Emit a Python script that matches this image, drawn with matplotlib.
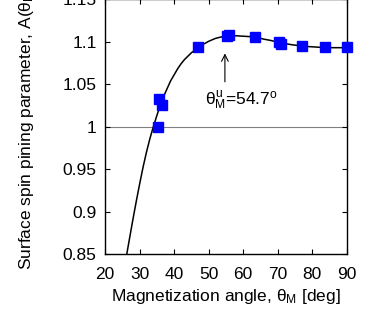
import numpy as np
import matplotlib
matplotlib.use("Agg")
import matplotlib.pyplot as plt

plt.rcParams['font.family'] = ['Liberation Sans', 'DejaVu Sans']
plt.rcParams['mathtext.fontset'] = 'custom'
plt.rcParams['mathtext.rm'] = 'Liberation Sans'
plt.rcParams['mathtext.it'] = 'Liberation Sans'
plt.rcParams['mathtext.bf'] = 'Liberation Sans:bold'

# Puntos medidos
theta_meas = [35.4, 35.6, 36.6, 46.8, 55.3, 56.0, 63.4, 70.3, 70.9, 77.1, 83.8, 89.9]
A_meas = [1.000, 1.033, 1.025, 1.0935, 1.1065, 1.1075, 1.106, 1.100, 1.097, 1.0955, 1.0935, 1.0935]

# Curva teorica
theta_fit = [26, 27, 28, 29, 30, 31, 32, 33, 34, 35, 36, 37, 38, 39, 40, 41, 42, 43, 44,
             45, 46, 47, 48, 50, 52, 54, 56, 58, 60, 62, 64, 66, 68, 70, 72, 74, 76, 78,
             80, 82, 84, 86, 88, 90]
A_fit = [0.843, 0.866, 0.889, 0.911, 0.932, 0.952, 0.970, 0.986, 1.000, 1.013, 1.025,
         1.036, 1.045, 1.054, 1.061, 1.068, 1.074, 1.079, 1.083, 1.087, 1.090, 1.093,
         1.096, 1.1005, 1.104, 1.106, 1.107, 1.107, 1.1065, 1.106, 1.105, 1.103, 1.1015,
         1.0995, 1.098, 1.0965, 1.0955, 1.0945, 1.094, 1.0935, 1.093, 1.093, 1.093, 1.093]

xticks = [20, 30, 40, 50, 60, 70, 80, 90]
yticks = [0.85, 0.9, 0.95, 1.0, 1.05, 1.1, 1.15]

fig = plt.figure(figsize=(3.73, 3.27), dpi=100)
ax = fig.add_axes([0.2815, 0.2232, 0.6485, 0.779])

ax.axhline(1.0, color='#808080', lw=0.8, zorder=1)
ax.plot(theta_fit, A_fit, color='black', lw=1.1, zorder=2)
ax.plot(theta_meas, A_meas, 's', color='#0000FF', ms=7, mec='#0000FF', clip_on=False, zorder=3)

ax.annotate('', xy=(54.7, 1.0895), xytext=(54.7, 1.0495),
            arrowprops=dict(arrowstyle='->', color='black', lw=0.8, mutation_scale=12))
ax.text(48.9, 1.031, r'$\theta^u_M$=54.7$^o$', fontsize=12.5, va='center', ha='left')

ax.set_xlim(20, 90)
ax.set_ylim(0.85, 1.15)
ax.set_xticks(xticks)
ax.set_yticks(yticks)
ax.set_yticklabels(['%g' % v for v in yticks])
ax.tick_params(direction='in', top=True, right=True, length=3.5, width=0.8, labelsize=12.5)
ax.tick_params(axis='x', pad=9)
ax.tick_params(axis='y', pad=6)
for s in ax.spines.values():
    s.set_linewidth(1.0)

ax.set_xlabel(r'Magnetization angle, $\theta_M$ [deg]', fontsize=12.5, labelpad=4)
ax.set_ylabel(r'Surface spin pining parameter, A($\theta_M$)', fontsize=12.5, labelpad=19)

fig.savefig('out.png', dpi=100)
